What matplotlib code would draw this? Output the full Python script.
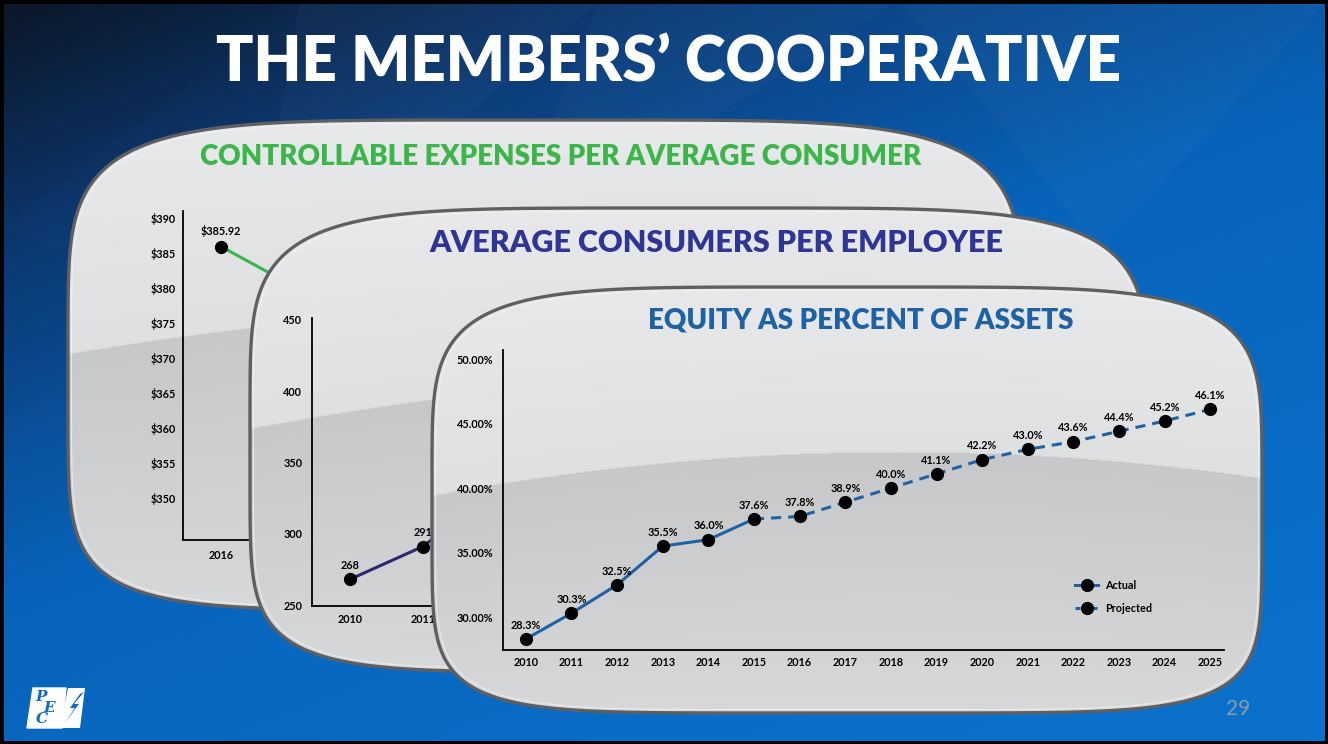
import numpy as np
import matplotlib
matplotlib.use("Agg")
import matplotlib.pyplot as plt
from matplotlib.path import Path
from matplotlib.patches import PathPatch, Rectangle, Polygon
from matplotlib.lines import Line2D
from matplotlib.ticker import FuncFormatter, FixedLocator

plt.rcParams['font.family'] = ['Lato', 'DejaVu Sans']
plt.rcParams['font.weight'] = 'bold'

W, H = 1328, 744

# ---- data ----
expense_years = [2016, 2017]
expense_values = [385.92, 380.0]          # 2017 hidden behind the next panel
expense_labels = ['$385.92']

consumer_years = [2010, 2011, 2012]
consumer_values = [268, 291, 330]         # 2012 hidden behind the front panel
consumer_labels = ['268', '291']

actual_years = [2010, 2011, 2012, 2013, 2014, 2015]
actual_values = [28.3, 30.3, 32.5, 35.5, 36.0, 37.6]
projected_years = [2016, 2017, 2018, 2019, 2020, 2021, 2022, 2023, 2024, 2025]
projected_values = [37.8, 38.9, 40.0, 41.1, 42.2, 43.0, 43.6, 44.4, 45.2, 46.1]

BLUE = '#1f62a3'
GREEN = '#3cb54a'
NAVY = '#2b2a6c'
NAVY_T = '#2e3593'
TICK_FS = 7.8
DASH = (0, (3.3, 2.3))

fig = plt.figure(figsize=(W / 100, H / 100), dpi=100)


def overlay(z):
    a = fig.add_axes([0, 0, 1, 1], zorder=z)
    a.set_xlim(0, W)
    a.set_ylim(H, 0)
    a.axis('off')
    a.patch.set_alpha(0)
    return a


def px_axes(x0, y0, x1, y1, z):
    a = fig.add_axes([x0 / W, 1 - y1 / H, (x1 - x0) / W, (y1 - y0) / H], zorder=z)
    a.patch.set_alpha(0)
    for s in ['top', 'right']:
        a.spines[s].set_visible(False)
    for s in ['left', 'bottom']:
        a.spines[s].set_linewidth(1.3)
    a.tick_params(length=0, labelsize=TICK_FS)
    return a


def panel_path(x0, x1, y0, y1, n_top=5, n_bot=6):
    cx, cy = (x0 + x1) / 2, (y0 + y1) / 2
    a, b = (x1 - x0) / 2, (y1 - y0) / 2
    t = np.linspace(0, 2 * np.pi, 600)
    c, s = np.cos(t), np.sin(t)
    n = np.where(s < 0, n_top, n_bot)
    x = cx + a * np.sign(c) * np.abs(c) ** (2 / n)
    y = cy + b * np.sign(s) * np.abs(s) ** (2 / n)
    return Path(np.column_stack([x, y]), closed=True)


def draw_panel(ax, x0, x1, y0, y1, px, py, k):
    path = panel_path(x0, x1, y0, y1)
    xs = np.arange(x0, x1 + 1)
    ys = np.arange(y0, y1 + 1)
    X, Y = np.meshgrid(xs, ys)
    bnd = py + k * (X - px) ** 2
    top_c = np.array([0.91, 0.913, 0.918])
    mid_c = np.array([0.875, 0.878, 0.882])
    dk_c = np.array([0.78, 0.784, 0.792])
    bot_c = np.array([0.845, 0.847, 0.85])
    f1 = np.clip((Y - y0) / np.maximum(bnd - y0, 1), 0, 1)[..., None]
    f2 = np.clip((Y - bnd) / np.maximum(y1 - bnd, 1), 0, 1)[..., None]
    light = top_c * (1 - f1) + mid_c * f1
    dark = dk_c * (1 - f2) + bot_c * f2
    img = np.where((Y < bnd)[..., None], light, dark)
    patch = PathPatch(path, fc='none', ec='#5e5f62', lw=2.4, zorder=3)
    ax.add_patch(patch)
    im = ax.imshow(img, extent=(x0, x1, y1, y0), aspect='auto', zorder=1,
                   interpolation='bilinear')
    im.set_clip_path(patch)
    inner = panel_path(x0 + 3.5, x1 - 3.5, y0 + 3.5, y1 - 3.5)
    ax.add_patch(PathPatch(inner, fc='none', ec='#f4f4f4', lw=0.8, alpha=0.7, zorder=2))
    ax.set_xlim(0, W)
    ax.set_ylim(H, 0)


# ---- slide background ----
bg = overlay(0)
gx, gy = np.meshgrid(np.linspace(0, 1, 332), np.linspace(0, 1, 186))
t = np.clip(0.55 * gx + 0.8 * gy, 0, 1.2)
stops = [0.0, 0.3, 0.65, 1.2]
cols = np.array([[0.05, 0.09, 0.16], [0.05, 0.24, 0.48], [0.03, 0.39, 0.73], [0.04, 0.44, 0.79]])
bgimg = np.stack([np.interp(t, stops, cols[:, i]) for i in range(3)], axis=-1)
bg.imshow(bgimg, extent=(0, W, H, 0), aspect='auto', interpolation='bilinear', zorder=0)
facets = [
    [(0, 0), (300, 0), (0, 230)], [(300, 0), (600, 0), (250, 300)],
    [(0, 230), (250, 300), (0, 420)], [(600, 0), (900, 0), (500, 250)],
    [(250, 300), (500, 250), (300, 120)], [(900, 0), (1328, 0), (1100, 250)],
]
for i, tri in enumerate(facets):
    bg.add_patch(Polygon(tri, closed=True, fc='white' if i % 2 else 'black',
                         alpha=0.025, lw=0, zorder=1))
bg.set_xlim(0, W)
bg.set_ylim(H, 0)
bg.text(668, 63, 'THE MEMBERS\u2019 COOPERATIVE', color='white', fontsize=44.5,
        fontweight='heavy', ha='center', va='center')
bg.text(1238, 709, '29', color='#8c9aac', fontsize=15, fontweight='normal',
        ha='center', va='center')

# PEC logo
bg.add_patch(Polygon([(33, 688), (66, 688), (62, 728), (27, 728)], closed=True,
                     fc='white', ec='white', lw=1, zorder=2))
bg.add_patch(Polygon([(68, 688), (85, 688), (80, 728), (60, 728)], closed=True,
                     fc='white', lw=0, zorder=2))
bg.add_patch(Polygon([(80, 694), (70, 708), (75, 708), (64, 724), (79, 704), (74, 704), (84, 692)],
                     closed=True, fc='#0a6cc4', lw=0, zorder=3))
for ch, (lx, ly) in zip('PEC', [(41, 697), (49, 708), (42, 719)]):
    bg.text(lx, ly, ch, color='#0a6cc4', fontsize=11, family='DejaVu Serif',
            style='italic', ha='center', va='center', zorder=4)

# ---- back panel: controllable expenses ----
p1 = overlay(1)
draw_panel(p1, 68, 1022, 120, 610, 700, 301, 1.33e-4)
p1.text(561, 157, 'CONTROLLABLE EXPENSES PER AVERAGE CONSUMER', color=GREEN,
        fontsize=20, fontweight='heavy', ha='center', va='center', zorder=5)

ax1 = px_axes(183, 211, 700, 540, 2)
ax1.plot(expense_years, expense_values, color=GREEN, lw=2.2, marker='o',
         ms=8.5, mfc='black', mec='black')
ax1.set_xlim(2015.5, 2022.3)
ax1.set_ylim(344, 391)
ax1.yaxis.set_major_locator(FixedLocator(np.arange(350, 391, 5)))
ax1.yaxis.set_major_formatter(FuncFormatter(lambda v, p: f'${v:.0f}'))
ax1.set_xticks(expense_years)
ax1.tick_params(axis='y', pad=5)
ax1.tick_params(axis='x', pad=7)
for x, y, s in zip(expense_years, expense_values, expense_labels):
    ax1.annotate(s, (x, y), xytext=(0, 7), textcoords='offset points',
                 ha='center', va='bottom', fontsize=TICK_FS)

# ---- middle panel: consumers per employee ----
p2 = overlay(3)
draw_panel(p2, 250, 1148, 208, 672, 850, 372, 1.58e-4)
p2.text(716, 243, 'AVERAGE CONSUMERS PER EMPLOYEE', color=NAVY_T,
        fontsize=22, fontweight='heavy', ha='center', va='center', zorder=5)

ax2 = px_axes(312, 318, 1100, 606, 4)
ax2.plot(consumer_years, consumer_values, color=NAVY, lw=2.2, marker='o',
         ms=8.5, mfc='black', mec='black')
ax2.set_xlim(2009.48, 2020.3)
ax2.set_ylim(249.3, 451.4)
ax2.yaxis.set_major_locator(FixedLocator([250, 300, 350, 400, 450]))
ax2.set_xticks(consumer_years)
ax2.tick_params(axis='y', pad=7)
ax2.tick_params(axis='x', pad=6)
for x, y, s in zip(consumer_years, consumer_values, consumer_labels):
    ax2.annotate(s, (x, y), xytext=(0, 6), textcoords='offset points',
                 ha='center', va='bottom', fontsize=TICK_FS)

# ---- front panel: equity as percent of assets ----
p3 = overlay(5)
draw_panel(p3, 432, 1262, 287, 713, 900, 452, 2.0e-4)
p3.text(861, 321, 'EQUITY AS PERCENT OF ASSETS', color=BLUE,
        fontsize=20, fontweight='heavy', ha='center', va='center', zorder=5)

ax3 = px_axes(503, 350, 1224, 650, 6)
ax3.plot([actual_years[-1]] + projected_years, [actual_values[-1]] + projected_values,
         color=BLUE, lw=2.2, ls=DASH, zorder=2)
ax3.plot(projected_years, projected_values, ls='none', marker='o', ms=8.5,
         mfc='black', mec='black', zorder=3)
ax3.plot(actual_years, actual_values, color=BLUE, lw=2.2, marker='o', ms=8.5,
         mfc='black', mec='black', zorder=3)
ax3.set_xlim(2009.5, 2025.3)
ax3.set_ylim(27.45, 50.7)
ax3.yaxis.set_major_locator(FixedLocator([30, 35, 40, 45, 50]))
ax3.yaxis.set_major_formatter(FuncFormatter(lambda v, p: f'{v:.2f}%'))
ax3.set_xticks(actual_years + projected_years)
ax3.tick_params(axis='y', pad=7)
ax3.tick_params(axis='x', pad=5)
for x, y in zip(actual_years + projected_years, actual_values + projected_values):
    ax3.annotate(f'{y:.1f}%', (x, y), xytext=(0, 6), textcoords='offset points',
                 ha='center', va='bottom', fontsize=TICK_FS)

handles = [
    Line2D([], [], color=BLUE, lw=2.2, marker='o', ms=8.5, mfc='black', mec='black'),
    Line2D([], [], color=BLUE, lw=2.2, ls=(0, (1.6, 1.2)), marker='o', ms=8.5,
           mfc='black', mec='black'),
]
ax3.legend(handles, ['Actual', 'Projected'], loc='upper left',
           bbox_to_anchor=(0.78, 0.265), frameon=False, fontsize=TICK_FS,
           handlelength=2.1, handletextpad=0.7, labelspacing=1.05)

# slide frame
top = overlay(20)
top.add_patch(Rectangle((0, 0), W, H, fc='none', ec='black', lw=5))

fig.savefig('out.png', dpi=100)
